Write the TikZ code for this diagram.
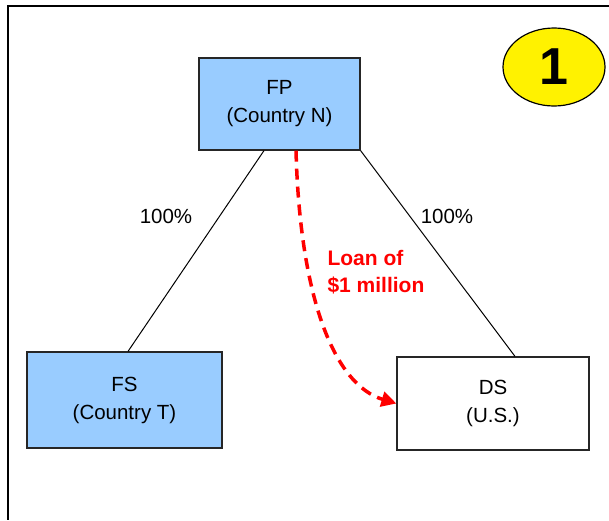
\documentclass[tikz,border=0pt]{standalone}
\usepackage{fontspec}
\setmainfont{Liberation Sans}
\usetikzlibrary{shapes.geometric,arrows.meta}
\definecolor{entityblue}{HTML}{99CCFF}
\begin{document}
\begin{tikzpicture}[x=1pt,y=-1pt,
        entity/.style={draw=black!85,line width=1.2pt,inner sep=0pt,align=center,
            font=\fontsize{20.5}{28}\selectfont},
        pct/.style={font=\fontsize{20.5}{24}\selectfont},
        loan/.style={red,line width=3.5pt,dash pattern=on 11pt off 7pt,
            -{Triangle[length=15pt,width=15pt]}}]
        \useasboundingbox (0,0) rectangle (609,520);
        \fill[white] (0,0) rectangle (609,520);
        \draw[line width=2.2pt] (609,6) -- (8,6) -- (8,520);
        % entities
        \node[entity,fill=entityblue,minimum width=161pt,minimum height=92pt] (fp) at (279.5,104) {FP\\(Country N)};
        \node[entity,fill=entityblue,minimum width=195pt,minimum height=96pt] (fs) at (124.5,400) {FS\\(Country T)};
        \node[entity,fill=white,minimum width=192pt,minimum height=93pt] (ds) at (493,403.5) {DS\\(U.S.)};
        \node[ellipse,draw,line width=1.2pt,fill=yellow,minimum width=102pt,minimum height=78pt,inner sep=0pt,
            font=\bfseries\fontsize{52}{52}\selectfont] (badge) at (554,67) {1};
        % ownership
        \draw[line width=1pt] ([xshift=-15.5pt]fp.south) -- ([xshift=3.5pt]fs.north);
        \draw[line width=1pt] (fp.south east) -- ([xshift=22pt]ds.north);
        \node[pct] (pctfs) at (166,216) {100\%};
        \node[pct] (pctds) at (447,216) {100\%};
        % loan
        \draw[loan] ([xshift=16.5pt]fp.south) .. controls (300,300) and (335,385) .. (ds.west);
        \node[red,anchor=west,align=left,font=\bfseries\fontsize{21}{27}\selectfont] (loanlbl) at (324,272) {Loan of\\\$1 million};
    \end{tikzpicture}
\end{document}
